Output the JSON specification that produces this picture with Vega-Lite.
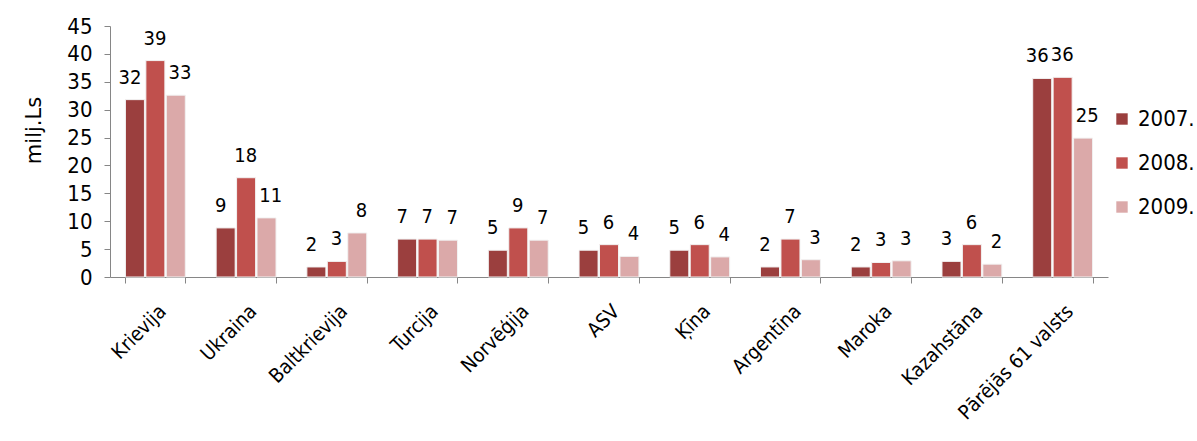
{
  "$schema": "https://vega.github.io/schema/vega-lite/v6.json",
  "width": 998,
  "height": 251,
  "autosize": {"type": "none"},
  "padding": {"left": 110, "top": 26, "right": 89, "bottom": 164},
  "background": "white",
  "data": {
    "values": [
      {"valsts": "Krievija", "gads": "2007.", "v": 31.8},
      {"valsts": "Krievija", "gads": "2008.", "v": 38.8},
      {"valsts": "Krievija", "gads": "2009.", "v": 32.6},
      {"valsts": "Ukraina", "gads": "2007.", "v": 8.8},
      {"valsts": "Ukraina", "gads": "2008.", "v": 17.8},
      {"valsts": "Ukraina", "gads": "2009.", "v": 10.6},
      {"valsts": "Baltkrievija", "gads": "2007.", "v": 1.8},
      {"valsts": "Baltkrievija", "gads": "2008.", "v": 2.8},
      {"valsts": "Baltkrievija", "gads": "2009.", "v": 7.9},
      {"valsts": "Turcija", "gads": "2007.", "v": 6.8},
      {"valsts": "Turcija", "gads": "2008.", "v": 6.8},
      {"valsts": "Turcija", "gads": "2009.", "v": 6.6},
      {"valsts": "Norvēģija", "gads": "2007.", "v": 4.8},
      {"valsts": "Norvēģija", "gads": "2008.", "v": 8.8},
      {"valsts": "Norvēģija", "gads": "2009.", "v": 6.6},
      {"valsts": "ASV", "gads": "2007.", "v": 4.8},
      {"valsts": "ASV", "gads": "2008.", "v": 5.8},
      {"valsts": "ASV", "gads": "2009.", "v": 3.7},
      {"valsts": "Ķīna", "gads": "2007.", "v": 4.8},
      {"valsts": "Ķīna", "gads": "2008.", "v": 5.8},
      {"valsts": "Ķīna", "gads": "2009.", "v": 3.6},
      {"valsts": "Argentīna", "gads": "2007.", "v": 1.8},
      {"valsts": "Argentīna", "gads": "2008.", "v": 6.8},
      {"valsts": "Argentīna", "gads": "2009.", "v": 3.1},
      {"valsts": "Maroka", "gads": "2007.", "v": 1.8},
      {"valsts": "Maroka", "gads": "2008.", "v": 2.6},
      {"valsts": "Maroka", "gads": "2009.", "v": 2.9},
      {"valsts": "Kazahstāna", "gads": "2007.", "v": 2.8},
      {"valsts": "Kazahstāna", "gads": "2008.", "v": 5.8},
      {"valsts": "Kazahstāna", "gads": "2009.", "v": 2.3},
      {"valsts": "Pārējās 61 valsts", "gads": "2007.", "v": 35.6},
      {"valsts": "Pārējās 61 valsts", "gads": "2008.", "v": 35.8},
      {"valsts": "Pārējās 61 valsts", "gads": "2009.", "v": 24.9}
    ]
  },
  "encoding": {
    "x": {
      "field": "valsts", "type": "nominal", "sort": null,
      "scale": {"paddingInner": 0.34, "paddingOuter": 0.17},
      "axis": {
        "title": null, "labelAngle": -45, "labelFontSize": 20,
        "labelPadding": 18, "tickBand": "extent", "tickSize": 6,
        "domainColor": "#868686", "tickColor": "#868686", "labelColor": "#000000"
      }
    },
    "y": {
      "field": "v", "type": "quantitative",
      "scale": {"domain": [0, 45], "nice": false},
      "axis": {
        "title": "milj.Ls", "values": [0, 5, 10, 15, 20, 25, 30, 35, 40, 45],
        "grid": false, "labelFontSize": 22, "titleFont": "DejaVu Sans", "titleFontSize": 21, "titleFontWeight": "normal",
        "titleY": 104,
        "tickSize": 6, "labelPadding": 12, "titlePadding": 22,
        "domainColor": "#868686", "tickColor": "#868686", "labelColor": "#000000", "titleColor": "#000000"
      }
    }
  },
  "layer": [
    {
      "mark": {"type": "bar", "stroke": "#f2f2f2", "strokeWidth": 1},
      "encoding": {
        "xOffset": {"field": "gads", "type": "nominal", "scale": {"paddingInner": 0.07}},
        "color": {
          "field": "gads", "type": "nominal",
          "scale": {"domain": ["2007.", "2008.", "2009."], "range": ["#9B3F3E", "#C0504D", "#DBA9A9"]},
          "legend": {
            "title": null, "orient": "none", "legendX": 1001, "legendY": 82,
            "symbolType": "square", "symbolSize": 130, "symbolStrokeWidth": 0,
            "labelFontSize": 22, "rowPadding": 22, "labelOffset": 5, "labelColor": "#000000"
          }
        }
      }
    },
    {
      "mark": {"type": "text", "baseline": "alphabetic", "dy": -16, "fontSize": 20, "color": "#000000"},
      "encoding": {
        "xOffset": {"field": "gads", "type": "nominal", "scale": {"type": "point", "range": [4.5, 54.5], "padding": 0}},
        "text": {"field": "v", "type": "quantitative", "format": ".0f"}
      }
    }
  ],
  "resolve": {"scale": {"xOffset": "independent"}},
  "config": {
    "font": "DejaVu Sans Condensed, DejaVu Sans",
    "view": {"stroke": null}
  }
}
